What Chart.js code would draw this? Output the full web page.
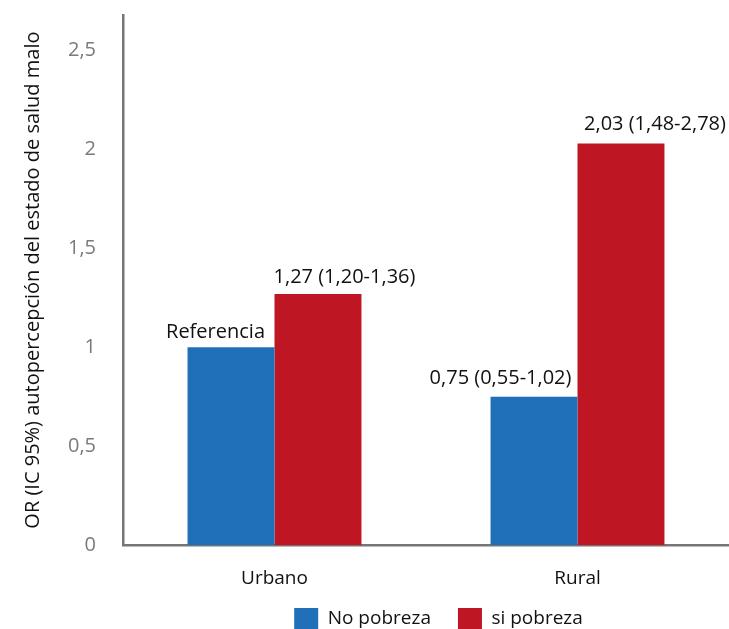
<!DOCTYPE html>
<html>
<head>
<meta charset="utf-8">
<script src="https://cdn.jsdelivr.net/npm/chart.js@4/dist/chart.umd.min.js"></script>
<style>
  html, body { margin: 0; padding: 0; background: #fff; }
  #wrap { width: 729px; height: 629px; }
</style>
</head>
<body>
<div id="wrap"><canvas id="myChart" width="729" height="629"></canvas></div>
<script>
'use strict';

const categories = ['Urbano', 'Rural'];
const noPobrezaValues = [1.0, 0.75];
const siPobrezaValues = [1.27, 2.03];
const noPobrezaLabels = ['Referencia', '0,75 (0,55-1,02)'];
const siPobrezaLabels = ['1,27 (1,20-1,36)', '2,03 (1,48-2,78)'];
const yTicks = [0, 0.5, 1, 1.5, 2, 2.5];

const fontFamily = '"Open Sans", "DejaVu Sans", sans-serif';
const axisGray = '#767676';

// text above each bar, nudged like the original
const barLabelPlugin = {
  id: 'barLabels',
  afterDatasetsDraw(chart, args, opts) {
    const ctx = chart.ctx;
    ctx.save();
    ctx.font = '20px ' + fontFamily;
    ctx.fillStyle = '#111';
    ctx.textAlign = 'center';
    ctx.textBaseline = 'alphabetic';
    chart.data.datasets.forEach((ds, di) => {
      const meta = chart.getDatasetMeta(di);
      meta.data.forEach((bar, i) => {
        ctx.fillText(ds.valueLabels[i], bar.x + opts.dx[di][i], bar.y - opts.dy[di][i]);
      });
    });
    ctx.restore();
  }
};

// the legend is not centred on the canvas in the original, so move it
const legendShiftPlugin = {
  id: 'legendShift',
  afterLayout(chart, args, opts) {
    const lg = chart.legend;
    lg.left += opts.x;
    lg.right += opts.x;
    lg.top += opts.y;
    lg.bottom += opts.y;
  }
};

const data = {
  labels: categories,
  datasets: [
    {
      label: 'No pobreza',
      data: noPobrezaValues,
      valueLabels: noPobrezaLabels,
      backgroundColor: '#1f70b8',
      borderWidth: 0,
    },
    {
      label: 'si pobreza',
      data: siPobrezaValues,
      valueLabels: siPobrezaLabels,
      backgroundColor: '#be1622',
      borderWidth: 0,
    },
  ],
};

const config = {
  type: 'bar',
  data: data,
  plugins: [barLabelPlugin, legendShiftPlugin],
  options: {
    responsive: false,
    animation: false,
    layout: { padding: { top: 15, left: 0, right: 0, bottom: -42 } },
    datasets: {
      bar: { categoryPercentage: 0.574, barPercentage: 1.0 },
    },
    scales: {
      x: {
        grid: { display: false, drawTicks: false },
        border: { display: true, color: axisGray, width: 2.5 },
        ticks: {
          color: '#111',
          font: { family: fontFamily, size: 19 },
          padding: 22,
        },
      },
      y: {
        min: 0,
        max: 2.68,
        grid: { display: false, drawTicks: false },
        border: { display: true, color: axisGray, width: 2.5 },
        afterBuildTicks(scale) {
          scale.ticks = yTicks.map(v => ({ value: v }));
        },
        ticks: {
          color: '#7a7a7a',
          font: { family: fontFamily, size: 20 },
          padding: 27,
          callback: v => String(v).replace('.', ','),
        },
        title: {
          display: true,
          text: 'OR (IC 95%) autopercepción del estado de salud malo',
          color: '#111',
          font: { family: fontFamily, size: 20 },
          padding: { top: 21, bottom: 0 },
        },
        afterFit(scale) {
          scale.width = 123;
          scale.paddingTop = 0;
          scale.paddingBottom = 0;
        },
      },
    },
    plugins: {
      legend: {
        position: 'bottom',
        labels: {
          boxWidth: 24,
          boxHeight: 22,
          padding: 27,
          color: '#111',
          font: { family: fontFamily, size: 19 },
        },
      },
      tooltip: { enabled: false },
      legendShift: { x: 74, y: -31 },
      barLabels: {
        dx: [[-15.5, -33.5], [26.5, 34]],
        dy: [[9, 13], [11, 14]],
      },
    },
  },
};

const canvasChart = document.getElementById('myChart');
new Chart(canvasChart, config);
</script>
</body>
</html>
